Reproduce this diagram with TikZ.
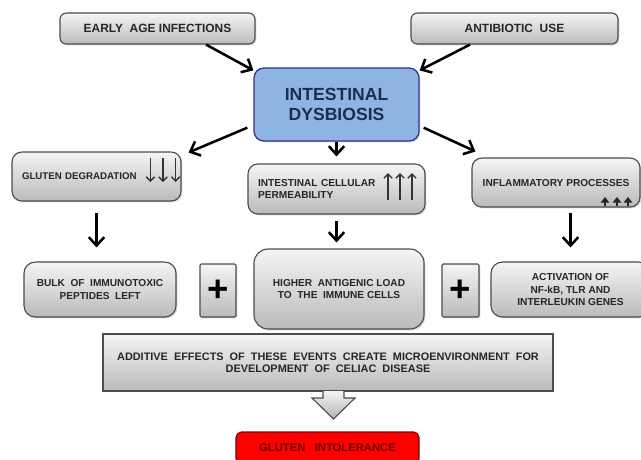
\documentclass[tikz,border=0pt]{standalone}
\usepackage{fontspec}
\setmainfont{Liberation Sans}
\usetikzlibrary{arrows.meta,shadows}

\begin{document}
\begin{tikzpicture}[
  greybox/.style={draw=black!70,line width=0.8pt,top color=black!4,bottom color=black!27,rounded corners=6pt,inner sep=0pt,text=black!85,align=center,font={\fontsize{7.2}{8.8}\selectfont\bfseries},drop shadow={shadow xshift=1pt,shadow yshift=-1pt,opacity=0.3}},
  topbox/.style={greybox,rounded corners=4.5pt,font={\fontsize{8.5}{10}\selectfont\bfseries}},
  bluebox/.style={draw=black!45!blue!60!gray,line width=0.9pt,fill={rgb,255:red,141;green,180;blue,226},rounded corners=7pt,text={rgb,255:red,30;green,45;blue,75},align=center,font={\fontsize{12.5}{14.2}\selectfont\bfseries},drop shadow={shadow xshift=1pt,shadow yshift=-1pt,opacity=0.3}},
  plusbox/.style={greybox,rounded corners=1pt,text=black,font={\fontsize{26}{26}\selectfont\bfseries}},
  redbox/.style={draw=red!50!black,line width=0.9pt,fill=red,rounded corners=4pt,text=red!40!black,font={\fontsize{8}{9}\selectfont\bfseries}},
  bigarrow/.style={line width=1.8pt,-{Straight Barb[length=6pt,width=11pt]}},
  tinyarrow/.style={line width=1pt,black!80,-{Straight Barb[length=3pt,width=6pt]}},
  tinyhead/.style={line width=1pt,black!85,-{Triangle[length=4pt,width=6pt]}}
]
\useasboundingbox (0,0) rectangle (16.025,-11.475);
\clip (0,0) rectangle (16.025,-11.475);
\node[topbox,minimum width=4.875cm,minimum height=0.775cm] (early) at (3.938,-0.713) {EARLY\ \ AGE INFECTIONS};
\node[topbox,minimum width=5.175cm,minimum height=0.775cm] (antib) at (12.863,-0.713) {ANTIBIOTIC\ \ USE};
\node[bluebox,minimum width=4.125cm,minimum height=1.825cm] (dysb) at (8.413,-2.613) {INTESTINAL\\DYSBIOSIS};
\node[greybox,rounded corners=7pt,minimum width=4.225cm,minimum height=1.225cm,inner xsep=0.25cm,text width=3.725cm,align=left,font={\fontsize{6.9}{8.8}\selectfont\bfseries}] (glut) at (2.413,-4.413) {GLUTEN\ DEGRADATION};
\node[greybox,rounded corners=7pt,minimum width=4.425cm,minimum height=1.25cm,inner xsep=0.25cm,text width=3.925cm,align=left] (perm) at (8.413,-4.725) {INTESTINAL CELLULAR\\PERMEABILITY};
\node[greybox,rounded corners=7pt,minimum width=4.2cm,minimum height=1.225cm] (infl) at (13.9,-4.563) {INFLAMMATORY PROCESSES};
\node[greybox,rounded corners=8pt,minimum width=3.8cm,minimum height=1.375cm] (bulk) at (2.5,-7.238) {BULK\ \ OF\ \ IMMUNOTOXIC\\PEPTIDES\ \ LEFT};
\node[plusbox,minimum width=0.9cm,minimum height=1.325cm] (plusa) at (5.45,-7.263) {+};
\node[greybox,rounded corners=10pt,minimum width=4.25cm,minimum height=2cm] (load) at (8.475,-7.225) {HIGHER\ \ ANTIGENIC LOAD\\TO\ \ THE\ \ IMMUNE CELLS};
\node[plusbox,minimum width=0.925cm,minimum height=1.325cm] (plusb) at (11.513,-7.263) {+};
\node[greybox,rounded corners=8pt,minimum width=3.975cm,minimum height=1.375cm] (activ) at (14.263,-7.238) {ACTIVATION OF\\NF-kB, TLR AND\\INTERLEUKIN GENES};
\node[greybox,rounded corners=0pt,line width=1.2pt,minimum width=11.25cm,minimum height=1.425cm,font={\fontsize{7.75}{8.6}\selectfont\bfseries}] (addit) at (8.2,-9.063) {ADDITIVE\ \ EFFECTS\ \ OF\ \ THESE\ \ EVENTS\ \ CREATE\ \ MICROENVIRONMENT\ \ FOR\\DEVELOPMENT\ \ OF\ \ CELIAC\ \ DISEASE};
\node[redbox,minimum width=4.575cm,minimum height=0.8cm] (intol) at (8.188,-11.2) {GLUTEN\ \ \ INTOLERANCE};
\draw[draw=black!70,line width=0.8pt,top color=black!4,bottom color=black!30] (8.075,-9.775) -- (8.075,-9.95) -- (7.8,-9.95) -- (8.338,-10.475) -- (8.875,-9.95) -- (8.6,-9.95) -- (8.6,-9.775);
\draw[bigarrow] ([xshift=1.2125cm]early.south) -- ([yshift=-0.075cm]dysb.north west);
\draw[bigarrow] ([xshift=-1.1125cm]antib.south) -- ([yshift=-0.075cm]dysb.north east);
\draw[bigarrow] ([xshift=-0.15cm,yshift=0.35cm]dysb.south west) -- ([xshift=0.175cm,yshift=-0.025cm]glut.north east);
\draw[bigarrow,shorten >=0.175cm] (dysb.south) -- (perm.north);
\draw[bigarrow] ([xshift=0.1cm,yshift=0.35cm]dysb.south east) -- ([xshift=0.1cm,yshift=0.15cm]infl.north west);
\draw[bigarrow,shorten <=0.275cm,shorten >=0.35cm] (glut.south) -- (glut.south |- bulk.north);
\draw[bigarrow,shorten <=0.15cm,shorten >=0.15cm] (perm.south) -- (perm.south |- load.north);
\draw[bigarrow,shorten <=0.125cm,shorten >=0.35cm] (activ.north |- infl.south) -- (activ.north);
\draw[tinyarrow] (3.760,-3.95) -- (3.760,-4.55);
\draw[tinyarrow] (4.075,-3.95) -- (4.075,-4.55);
\draw[tinyarrow] (4.390,-3.95) -- (4.390,-4.55);
\draw[tinyarrow] (9.700,-5.000) -- (9.700,-4.325);
\draw[tinyarrow] (10.000,-5.000) -- (10.000,-4.325);
\draw[tinyarrow] (10.300,-5.000) -- (10.300,-4.325);
\draw[tinyhead] (15.125,-5.150) -- (15.125,-4.925);
\draw[tinyhead] (15.425,-5.150) -- (15.425,-4.925);
\draw[tinyhead] (15.700,-5.150) -- (15.700,-4.925);
\end{tikzpicture}
\end{document}
